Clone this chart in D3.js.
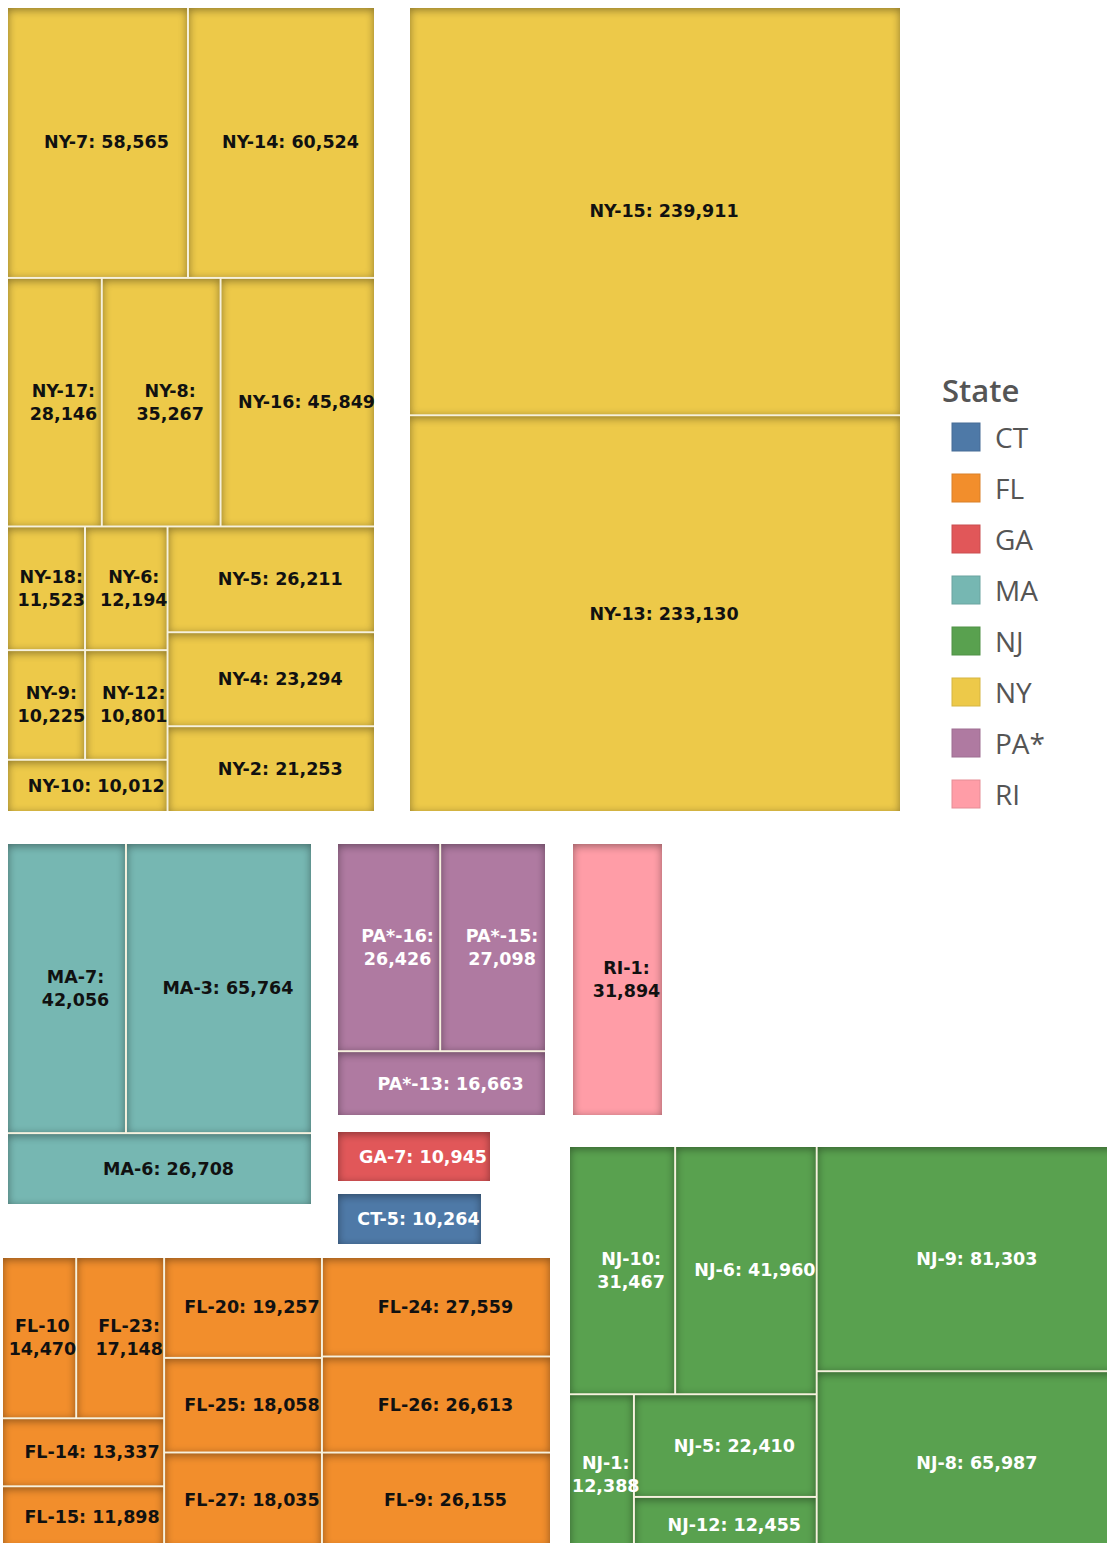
<!DOCTYPE html>
<html>
<head>
<meta charset="utf-8">
<script src="https://cdn.jsdelivr.net/npm/d3@7"></script>
<style>
  body { margin: 0; background: #fff; }
  svg { display: block; }
</style>
</head>
<body>
<svg id="chart" width="1107" height="1543"></svg>
<script>
// Votes by congressional district, grouped by state (one treemap per state)

var states = ["CT", "FL", "GA", "MA", "NJ", "NY", "PA*", "RI"];

var nyDistricts = ["NY-7", "NY-14", "NY-17", "NY-8", "NY-16", "NY-18", "NY-6", "NY-9", "NY-12", "NY-10", "NY-5", "NY-4", "NY-2", "NY-15", "NY-13"];
var nyVotes = [58565, 60524, 28146, 35267, 45849, 11523, 12194, 10225, 10801, 10012, 26211, 23294, 21253, 239911, 233130];

var maDistricts = ["MA-7", "MA-3", "MA-6"];
var maVotes = [42056, 65764, 26708];

var paDistricts = ["PA*-16", "PA*-15", "PA*-13"];
var paVotes = [26426, 27098, 16663];

var riDistricts = ["RI-1"];
var riVotes = [31894];

var gaDistricts = ["GA-7"];
var gaVotes = [10945];

var ctDistricts = ["CT-5"];
var ctVotes = [10264];

var flDistricts = ["FL-10", "FL-23", "FL-14", "FL-15", "FL-20", "FL-25", "FL-27", "FL-24", "FL-26", "FL-9"];
var flVotes = [14470, 17148, 13337, 11898, 19257, 18058, 18035, 27559, 26613, 26155];

var njDistricts = ["NJ-10", "NJ-6", "NJ-1", "NJ-5", "NJ-12", "NJ-9", "NJ-8"];
var njVotes = [31467, 41960, 12388, 22410, 12455, 81303, 65987];

// lookup name -> votes
var votes = new Map(d3.zip(
    [].concat(nyDistricts, maDistricts, paDistricts, riDistricts, gaDistricts, ctDistricts, flDistricts, njDistricts),
    [].concat(nyVotes, maVotes, paVotes, riVotes, gaVotes, ctVotes, flVotes, njVotes)));

// Panel layout: where each block sits, and how its tiles nest.
//   "h" = children side by side, "v" = children stacked
var panels = [
    {state: "NY", box: [8, 8, 374, 811],
     tree: ["v", ["h", "NY-7", "NY-14"], ["h", "NY-17", "NY-8", "NY-16"],
            ["h", ["v", ["h", "NY-18", "NY-6"], ["h", "NY-9", "NY-12"], "NY-10"], ["v", "NY-5", "NY-4", "NY-2"]]]},
    {state: "NY", box: [410, 8, 900, 811], tree: ["v", "NY-15", "NY-13"]},
    {state: "MA", box: [8, 844, 311, 1204], tree: ["v", ["h", "MA-7", "MA-3"], "MA-6"]},
    {state: "PA*", box: [338, 844, 545, 1115], tree: ["v", ["h", "PA*-16", "PA*-15"], "PA*-13"]},
    {state: "RI", box: [573, 844, 662, 1115], tree: ["v", "RI-1"]},
    {state: "GA", box: [338, 1132, 490, 1181], tree: ["v", "GA-7"]},
    {state: "CT", box: [338, 1194, 481, 1244], tree: ["v", "CT-5"]},
    {state: "FL", box: [3, 1258, 550, 1546],
     tree: ["h", ["v", ["h", "FL-10", "FL-23"], "FL-14", "FL-15"], ["v", "FL-20", "FL-25", "FL-27"], ["v", "FL-24", "FL-26", "FL-9"]]},
    {state: "NJ", box: [570, 1147, 1118, 1553],
     tree: ["h", ["v", ["h", "NJ-10", "NJ-6"], ["h", "NJ-1", ["v", "NJ-5", "NJ-12"]]], ["v", "NJ-9", "NJ-8"]]}
];

var color = d3.scaleOrdinal(states, d3.schemeTableau10);
var darkText = {"CT": false, "FL": true, "GA": false, "MA": true, "NJ": false, "NY": true, "PA*": false, "RI": true};
var fmt = d3.format(",");
var fontSize = 17.5;

var svg = d3.select("#chart");

// inner shadow for each tile
var defs = svg.append("defs");
var f = defs.append("filter").attr("id", "inset")
    .attr("x", "-50%").attr("y", "-50%").attr("width", "200%").attr("height", "200%");
f.append("feFlood").attr("flood-color", "#000").attr("result", "flood");
f.append("feComposite").attr("in", "flood").attr("in2", "SourceAlpha").attr("operator", "out").attr("result", "outside");
f.append("feGaussianBlur").attr("in", "outside").attr("stdDeviation", 4).attr("result", "blur");
f.append("feOffset").attr("in", "blur").attr("dy", 2).attr("result", "off");
f.append("feComposite").attr("in", "off").attr("in2", "SourceAlpha").attr("operator", "in").attr("result", "shadow");
f.append("feComponentTransfer").attr("in", "shadow")
  .append("feFuncA").attr("type", "linear").attr("slope", 0.4);

// turn the nested arrays into something d3.hierarchy understands
function toNode(t) {
    if (typeof t === "string") return {name: t, value: votes.get(t)};
    return {dir: t[0], children: t.slice(1).map(toNode)};
}

function tile(node, x0, y0, x1, y1) {
    (node.data.dir === "h" ? d3.treemapDice : d3.treemapSlice)(node, x0, y0, x1, y1);
}

// tiles first, labels in their own layer on top (some labels spill over)
var tileLayer = svg.append("g").attr("class", "tiles");
var labelLayer = svg.append("g").attr("class", "labels");

panels.forEach(function(p) {
    var w = p.box[2] - p.box[0],
        h = p.box[3] - p.box[1];

    var root = d3.hierarchy(toNode(p.tree)).sum(function(d) { return d.value || 0; });
    d3.treemap().tile(tile).size([w, h]).paddingInner(2)(root);

    var shift = "translate(" + p.box[0] + "," + p.box[1] + ")";
    var g = tileLayer.append("g").attr("transform", shift);
    var gl = labelLayer.append("g").attr("transform", shift);

    // light seams between tiles
    g.append("rect")
        .attr("width", w).attr("height", h)
        .attr("fill", "#f6f1de");

    var leaf = g.selectAll("g.leaf")
        .data(root.leaves())
        .enter().append("g")
          .attr("class", "leaf");

    leaf.append("rect")
        .attr("x", function(d) { return d.x0; })
        .attr("y", function(d) { return d.y0; })
        .attr("width", function(d) { return d.x1 - d.x0; })
        .attr("height", function(d) { return d.y1 - d.y0; })
        .attr("fill", color(p.state));

    leaf.append("rect")
        .attr("x", function(d) { return d.x0; })
        .attr("y", function(d) { return d.y0; })
        .attr("width", function(d) { return d.x1 - d.x0; })
        .attr("height", function(d) { return d.y1 - d.y0; })
        .attr("fill", "#000")
        .attr("filter", "url(#inset)");

    root.leaves().forEach(function(d) {
        var name = d.data.name === "FL-10" ? "FL-10" : d.data.name + ":";
        var text = gl.append("text")
            .attr("font-family", "'DejaVu Sans', Verdana, sans-serif")
            .attr("font-weight", "bold")
            .attr("font-size", fontSize)
            .attr("fill", darkText[p.state] ? "#111" : "#fff")
            .attr("text-anchor", "middle");

        var cw = d.x1 - d.x0,
            cx = (d.x0 + d.x1) / 2,
            cy = (d.y0 + d.y1) / 2;

        var one = text.append("tspan").text(name + " " + fmt(d.data.value));
        var lw = one.node().getComputedTextLength();
        var lines = [name + " " + fmt(d.data.value)];
        if (lw > cw - 4) {
            one.remove();
            lines = [name, fmt(d.data.value)];
            lw = 0;
            lines.forEach(function(s) {
                var t = text.append("tspan").text(s);
                lw = Math.max(lw, t.node().getComputedTextLength());
            });
        }
        // Tableau nudges labels right; keep them inside the tile where possible
        var x = Math.min(cx + 9, d.x1 - lw / 2 + 1);
        x = Math.max(x, d.x0 + lw / 2 + 2);
        var lh = 23;
        text.selectAll("tspan")
            .attr("x", x)
            .attr("y", function(s, i) { return cy + 6 + (i - (lines.length - 1) / 2) * lh; });
    });
});

// legend
var legend = svg.append("g").attr("transform", "translate(942,0)");

legend.append("text")
    .attr("x", 0).attr("y", 402)
    .attr("font-family", "'Open Sans', 'Noto Sans', sans-serif")
    .attr("font-size", 31)
    .attr("font-weight", 600)
    .attr("fill", "#555")
    .text("State");

var item = legend.selectAll("g.item")
    .data(states)
    .enter().append("g")
      .attr("class", "item")
      .attr("transform", function(d, i) { return "translate(10," + (423 + i * 51) + ")"; });

item.append("rect")
    .attr("width", 28).attr("height", 28)
    .attr("fill", function(d) { return color(d); })
    .attr("stroke", function(d) { return d3.color(color(d)).darker(0.3); })
    .attr("stroke-width", 1);

item.append("text")
    .attr("x", 43).attr("y", 24.5)
    .attr("font-family", "'Open Sans', 'Noto Sans', sans-serif")
    .attr("font-size", 28)
    .attr("fill", "#555")
    .text(function(d) { return d; });
</script>
</body>
</html>
